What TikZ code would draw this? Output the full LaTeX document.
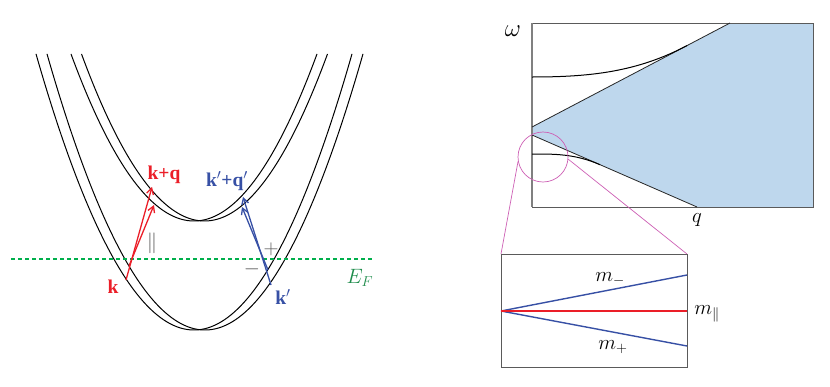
\documentclass[tikz,border=0pt]{standalone}
\usepackage{fontspec}
\setmainfont{Liberation Serif}
\usetikzlibrary{arrows.meta}
\definecolor{cred}{RGB}{235,30,40}
\definecolor{cblue}{RGB}{55,80,165}
\definecolor{cgreen}{RGB}{0,175,75}
\definecolor{cgreenT}{RGB}{30,140,75}
\definecolor{cmag}{RGB}{205,95,180}
\definecolor{cfill}{RGB}{190,215,237}
\definecolor{cgray}{RGB}{90,90,90}
\tikzset{
  band/.style={black,line width=1pt},
  redarr/.style={cred,line width=1.3pt,-{Straight Barb[length=6pt,width=7pt]}},
  bluearr/.style={cblue,line width=1.3pt,-{Straight Barb[length=6pt,width=7pt]}},
  lbl/.style={font=\fontsize{19.5}{20}\selectfont\bfseries,inner sep=0pt},
  glbl/.style={text=cgray,font=\fontsize{21}{21}\selectfont,inner sep=0pt},
  mlbl/.style={font=\fontsize{21}{21}\selectfont,inner sep=0pt},
  frame/.style={draw=cgray,line width=0.9pt},
  magline/.style={cmag,line width=0.7pt},
}
\begin{document}
\begin{tikzpicture}[x=1pt,y=-1pt]
\useasboundingbox (0,0) rectangle (830,386);
% ---------- left panel: bands ----------
\draw[band] plot[domain=71:317,samples=90,smooth] (\x,{221-(0.10507*(\x-194))^2});
\draw[band] plot[domain=81.5:327.5,samples=90,smooth] (\x,{221-(0.10507*(\x-204.5))^2});
\draw[band] plot[domain=36:352,samples=110,smooth] (\x,{330-(0.10517*(\x-194))^2});
\draw[band] plot[domain=47:363,samples=110,smooth] (\x,{330-(0.10517*(\x-205))^2});
% Fermi level
\coordinate (efl) at (11,259);
\coordinate (efr) at (372,259);
\draw[draw=cgreen,line width=1.2pt,dash pattern=on 4pt off 3pt] (efl) -- (efr);
\node[text=cgreenT,font=\fontsize{20}{20}\selectfont,inner sep=0pt] (ef) at (360,278) {$E_F$};
% red transitions
\coordinate (r1s) at (126,280);
\coordinate (r1e) at (152,187);
\coordinate (r2s) at (129,266);
\coordinate (r2e) at (154,205);
\draw[redarr] (r1s) -- (r1e);
\draw[redarr] (r2s) -- (r2e);
\node[lbl,text=cred] (k) at (113,287) {k};
\node[lbl,text=cred] (kq) at (164,175) {k+q};
\node[glbl] (par) at (152,243) {$\|$};
% blue transitions
\coordinate (b1s) at (271,285);
\coordinate (b1e) at (243,197);
\coordinate (b2s) at (268,270);
\coordinate (b2e) at (242,207);
\draw[bluearr] (b1s) -- (b1e);
\draw[bluearr] (b2s) -- (b2e);
\node[lbl,text=cblue] (kp) at (283,297) {k$'$};
\node[lbl,text=cblue] (kpq) at (227,181) {k$'$+q$'$};
\node[glbl] (plus) at (271,249) {$+$};
\node[glbl] (minus) at (252,269) {$-$};
% ---------- right panel ----------
\fill[cfill] (532,127) -- (730,23) -- (813,23) -- (813,207) -- (697,207) -- (532,135) -- cycle;
\draw[frame] (532,23) rectangle (813,207);
\draw[gray,line width=1.6pt] (532,23) -- (532,207);
\coordinate (ua) at (532,127);
\coordinate (ub) at (730,23);
\coordinate (la) at (532,135);
\coordinate (lb) at (697,207);
\draw[black!85,line width=0.8pt] (ua) -- (ub);
\draw[black!85,line width=0.8pt] (la) -- (lb);
\coordinate (c1a) at (532,77);
\coordinate (c1b) at (687,45.6);
\draw[black,line width=1pt] (c1a) .. controls (590,77) and (637,72) .. (c1b);
\coordinate (c2a) at (532,154);
\coordinate (c2b) at (600,164.7);
\draw[black,line width=1pt] (c2a) .. controls (555,154) and (575,153.8) .. (c2b);
\node[font=\fontsize{23}{23}\selectfont,inner sep=0pt] (om) at (513,31) {$\omega$};
\node[mlbl] (q) at (697,220) {$q$};
% zoom circle
\node[draw=cmag,line width=0.7pt,circle,minimum size=50pt,inner sep=0pt] (zc) at (543,157) {};
% inset
\coordinate (itl) at (501,254);
\coordinate (itr) at (687,254);
\draw[frame] (501,254) rectangle (687,367);
\draw[magline] (zc.190) -- (itl);
\draw[magline] (zc.-5) -- (itr);
\coordinate (o) at (501,311);
\coordinate (mt) at (687,275);
\coordinate (mm) at (687,311);
\coordinate (mb) at (687,346);
\draw[cblue,line width=1.4pt] (o) -- (mt);
\draw[cblue,line width=1.4pt] (o) -- (mb);
\draw[cred,line width=1.4pt] (o) -- (mm);
\node[mlbl] (mminus) at (610,279) {$m_-$};
\node[mlbl] (mplus) at (613,347) {$m_+$};
\node[mlbl] (mpar) at (707,314) {$m_\|$};
\end{tikzpicture}
\end{document}
